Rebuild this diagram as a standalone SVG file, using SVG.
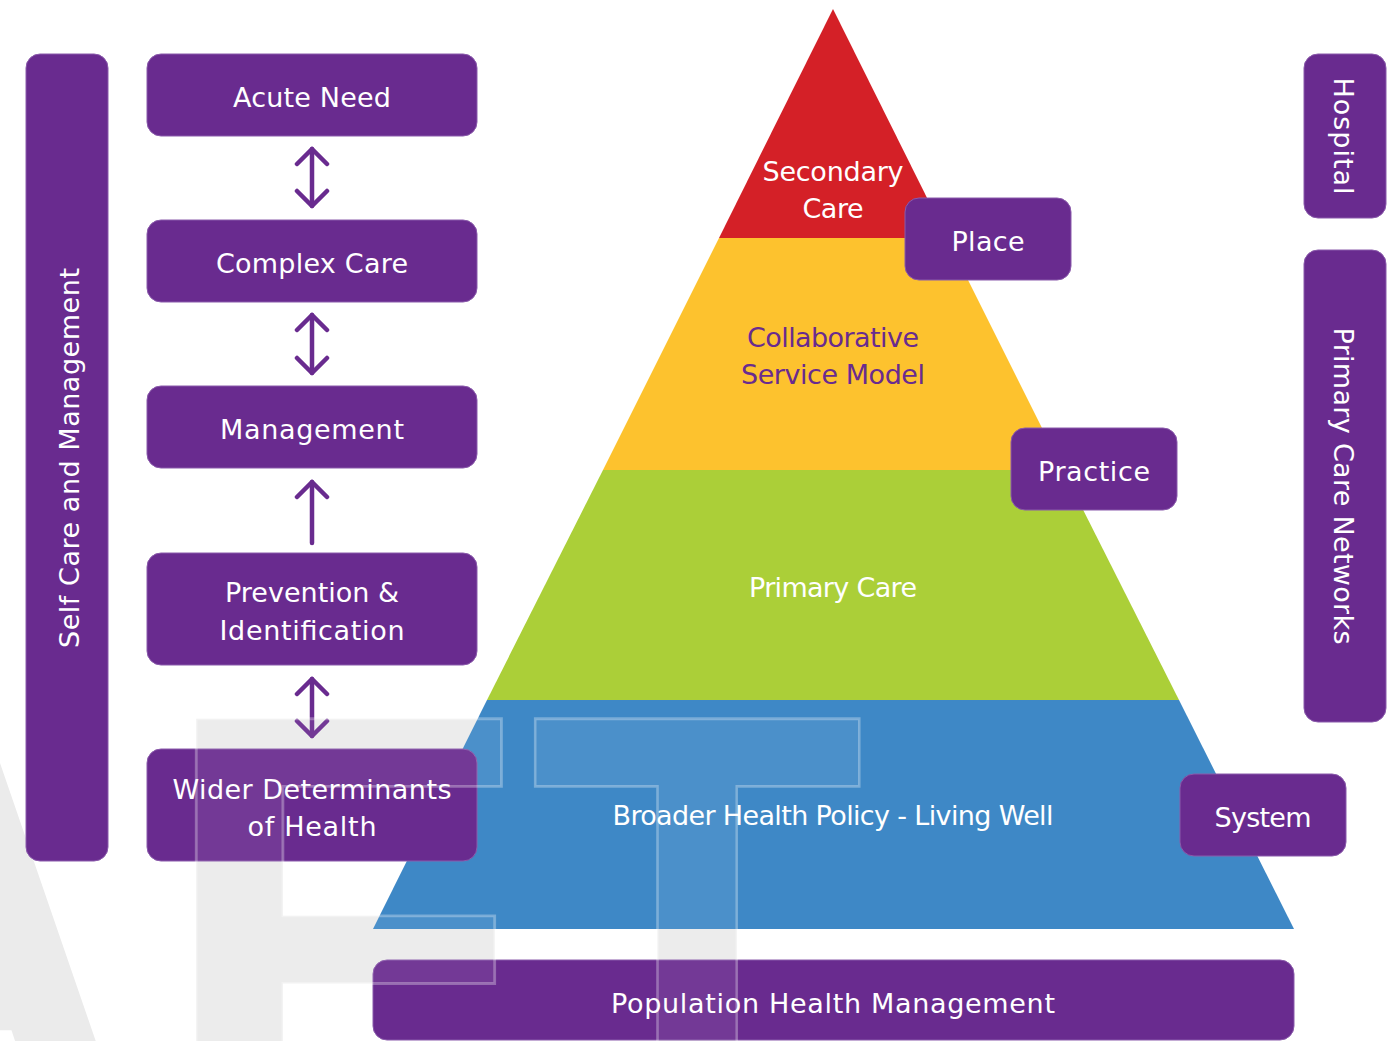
<svg xmlns="http://www.w3.org/2000/svg" width="1399" height="1041" viewBox="0 0 1399 1041">
<style>
.box{fill:#692b8f;stroke:#8a5aab;stroke-width:1}
.lbl{font-family:"DejaVu Sans","Liberation Sans",sans-serif;font-size:27px;fill:#ffffff;text-anchor:middle}
.plbl{fill:#692b8f}
.wm{font-family:"Liberation Sans",Arial,sans-serif;font-weight:bold;font-size:640px}
.wmu{fill:#ebebeb}
.wmo{fill:#ffffff;fill-opacity:0.07;stroke:#ffffff;stroke-opacity:0.3;stroke-width:3}
.arrow{fill:none;stroke:#692b8f;stroke-width:4.5;stroke-linecap:round}
</style>
<defs>
<marker id="chev" viewBox="-18 -18 22 36" markerWidth="22" markerHeight="36" refX="0" refY="0" orient="auto-start-reverse" markerUnits="userSpaceOnUse">
<path d="M-15,-15 L0,0 L-15,15" fill="none" stroke="#692b8f" stroke-width="4.5" stroke-linecap="round" stroke-linejoin="round"/>
</marker>
</defs>
<rect width="1399" height="1041" fill="#ffffff"/>
<g id="watermark-under" class="wm wmu">
<text x="0" y="0" transform="translate(-272,1137) scale(0.9,0.95)">A</text>
<text x="0" y="0" transform="translate(156,1137) scale(0.94,0.95)">F</text>
<text x="0" y="0" transform="translate(529,1137) scale(0.86,0.95)">T</text>
</g>
<g id="pyramid">
<polygon points="833,9 947,238 719,238" fill="#d42027"/>
<polygon points="719,238 947,238 1063,470 603,470" fill="#fdc22e"/>
<polygon points="603,470 1063,470 1179,700 487,700" fill="#abcf38"/>
<polygon points="487,700 1179,700 1294,929 373,929" fill="#3e88c6"/>
<text class="lbl" x="833" y="181" textLength="141">Secondary</text>
<text class="lbl" x="833" y="218" textLength="61">Care</text>
<text class="lbl plbl" x="833" y="347" textLength="172">Collaborative</text>
<text class="lbl plbl" x="833" y="384" textLength="184">Service Model</text>
<text class="lbl" x="833" y="597" textLength="168">Primary Care</text>
<text class="lbl" x="833" y="825" textLength="441">Broader Health Policy - Living Well</text>
</g>
<g id="self-care">
<rect class="box" x="26" y="54" width="82" height="807" rx="14"/>
<text class="lbl" transform="translate(79,458) rotate(-90)" x="0" y="0" textLength="380">Self Care and Management</text>
</g>
<g id="hospital">
<rect class="box" x="1304" y="54" width="82" height="164" rx="14"/>
<text class="lbl" transform="translate(1334,136) rotate(90)" x="0" y="0" textLength="117">Hospital</text>
</g>
<g id="pcn">
<rect class="box" x="1304" y="250" width="82" height="472" rx="14"/>
<text class="lbl" transform="translate(1334,486) rotate(90)" x="0" y="0" textLength="317">Primary Care Networks</text>
</g>
<g id="acute-need">
<rect class="box" x="147" y="54" width="330" height="82" rx="14"/>
<text class="lbl" x="312" y="107" textLength="158">Acute Need</text>
</g>
<g id="complex-care">
<rect class="box" x="147" y="220" width="330" height="82" rx="14"/>
<text class="lbl" x="312" y="273" textLength="192">Complex Care</text>
</g>
<g id="management">
<rect class="box" x="147" y="386" width="330" height="82" rx="14"/>
<text class="lbl" x="312" y="439" textLength="184">Management</text>
</g>
<g id="prevention">
<rect class="box" x="147" y="553" width="330" height="112" rx="14"/>
<text class="lbl" x="312" y="602" textLength="174">Prevention &amp;</text>
<text class="lbl" x="312" y="640" textLength="185">Identification</text>
</g>
<g id="wider-determinants">
<rect class="box" x="147" y="749" width="330" height="112" rx="14"/>
<text class="lbl" x="312" y="799" textLength="279">Wider Determinants</text>
<text class="lbl" x="312" y="836" textLength="129">of Health</text>
</g>
<g id="place">
<rect class="box" x="905" y="198" width="166" height="82" rx="14"/>
<text class="lbl" x="988" y="251" textLength="73">Place</text>
</g>
<g id="practice">
<rect class="box" x="1011" y="428" width="166" height="82" rx="14"/>
<text class="lbl" x="1094" y="481" textLength="112">Practice</text>
</g>
<g id="system">
<rect class="box" x="1180" y="774" width="166" height="82" rx="14"/>
<text class="lbl" x="1263" y="827" textLength="97">System</text>
</g>
<g id="population-health">
<rect class="box" x="373" y="960" width="921" height="80" rx="14"/>
<text class="lbl" x="833" y="1013" textLength="444">Population Health Management</text>
</g>
<g id="connectors">
<line class="arrow" x1="312" y1="149" x2="312" y2="206" marker-start="url(#chev)" marker-end="url(#chev)"/>
<line class="arrow" x1="312" y1="315" x2="312" y2="373" marker-start="url(#chev)" marker-end="url(#chev)"/>
<line class="arrow" x1="312" y1="543" x2="312" y2="482" marker-end="url(#chev)"/>
<line class="arrow" x1="312" y1="679" x2="312" y2="736" marker-start="url(#chev)" marker-end="url(#chev)"/>
</g>
<g id="watermark-over" class="wm wmo">
<text x="0" y="0" transform="translate(156,1137) scale(0.94,0.95)">F</text>
<text x="0" y="0" transform="translate(529,1137) scale(0.86,0.95)">T</text>
</g>
</svg>
